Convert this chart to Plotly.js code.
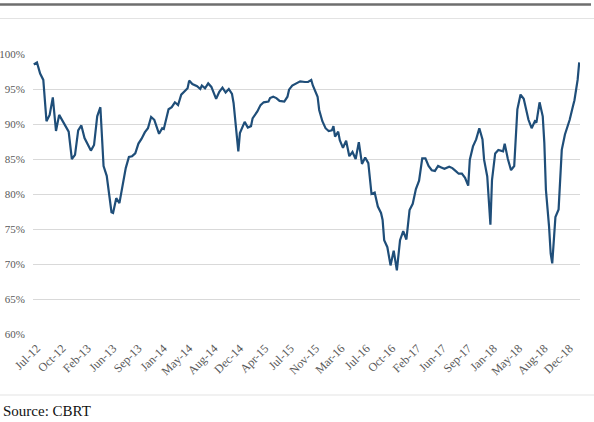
<!DOCTYPE html>
<html>
<head>
<meta charset="utf-8">
<script src="https://cdn.plot.ly/plotly-3.0.1.min.js"></script>
<style>
  html, body { margin: 0; padding: 0; background: #ffffff; }
  #chart { width: 594px; height: 422px; }
</style>
</head>
<body>
<div id="chart"></div>
<script>
// Weekly observations, counted in weeks from the first one (Jul-12)
const weeks = [
  0, 2, 4, 5, 6, 8, 10, 12, 14, 16, 18, 21, 22, 24, 26, 28, 30, 32, 35, 36,
  38, 40, 42, 44, 46, 49, 50, 52, 54, 56, 58, 60, 62, 64, 66, 68, 70, 72, 74, 76,
  79, 81, 82, 85, 87, 89, 91, 93, 95, 97, 98, 100, 103, 105, 106, 108, 110, 112, 115, 117,
  119, 121, 123, 125, 126, 127, 129, 130, 133, 135, 137, 138, 141, 143, 145, 148, 149, 151, 153, 155,
  158, 160, 161, 163, 166, 168, 171, 173, 175, 176, 179, 180, 182, 184, 186, 188, 189, 190, 192, 193,
  195, 197, 199, 201, 203, 205, 207, 209, 211, 212, 213, 215, 217, 219, 220, 221, 223, 225, 227, 229,
  231, 233, 235, 237, 239, 241, 243, 245, 247, 249, 251, 253, 255, 257, 259, 262, 264, 266, 268, 270,
  272, 274, 275, 277, 279, 281, 283, 284, 286, 288, 289, 291, 293, 296, 297, 299, 301, 303, 305, 307,
  309, 312, 314, 316, 317, 319, 321, 322, 323, 325, 326, 327, 329, 331, 333, 335, 338, 340, 341, 343,
  344
];

// Ratio, in percent
const ratio = [
  98.5, 98.8, 97.2, 96.7, 96.3, 90.4, 91.3, 93.8, 89.0, 91.3, 90.5, 89.5, 88.9, 85.0, 85.6, 89.1, 89.8, 88.0, 86.5, 86.2,
  87.0, 91.1, 92.4, 84.0, 82.6, 77.4, 77.3, 79.4, 78.7, 81.5, 83.7, 85.3, 85.4, 85.8, 87.2, 87.9, 88.8, 89.4, 91.0, 90.6,
  88.6, 89.4, 89.3, 92.1, 92.4, 93.1, 92.7, 94.2, 94.7, 95.1, 96.2, 95.7, 95.4, 95.0, 95.5, 95.1, 95.8, 95.3, 93.6, 94.6,
  95.2, 94.5, 95.0, 94.3, 93.0, 90.6, 86.1, 88.7, 90.3, 89.5, 89.7, 90.8, 91.8, 92.7, 93.1, 93.2, 93.7, 93.9, 93.7, 93.3,
  93.2, 93.9, 94.9, 95.5, 95.9, 96.1, 96.0, 96.0, 96.3, 95.5, 93.9, 92.0, 90.4, 89.4, 89.0, 89.1, 89.7, 88.2, 88.9, 87.7,
  86.6, 87.6, 85.4, 86.0, 85.0, 87.4, 84.3, 85.2, 84.4, 82.5, 80.0, 80.2, 78.2, 77.3, 76.3, 73.4, 72.4, 69.8, 71.9, 69.1,
  73.4, 74.7, 73.5, 77.7, 78.6, 80.7, 81.9, 85.1, 85.1, 84.0, 83.4, 83.3, 84.0, 83.8, 83.6, 83.9, 83.7, 83.3, 82.9, 82.9,
  82.3, 81.2, 84.9, 86.8, 87.8, 89.4, 87.8, 84.9, 82.5, 75.6, 82.0, 85.8, 86.3, 86.1, 87.2, 85.0, 83.4, 84.0, 92.1, 94.2,
  93.6, 90.6, 89.4, 90.4, 90.2, 93.1, 91.1, 87.3, 80.6, 75.3, 71.5, 70.1, 76.7, 77.8, 86.3, 88.5, 90.6, 92.5, 93.4, 96.3,
  98.8
];

// Axis labels: one every 16 weeks
const tickWeeks = [0, 16, 32, 48, 64, 80, 96, 112, 128, 144, 160, 176, 192, 208, 224, 240, 256, 272, 288, 304, 320, 336];
const tickLabels = ['Jul-12', 'Oct-12', 'Feb-13', 'Jun-13', 'Sep-13', 'Jan-14', 'May-14', 'Aug-14', 'Dec-14', 'Apr-15', 'Jul-15',
  'Nov-15', 'Mar-16', 'Jul-16', 'Oct-16', 'Feb-17', 'Jun-17', 'Sep-17', 'Jan-18', 'May-18', 'Aug-18', 'Dec-18'];

const yTicks = [60, 65, 70, 75, 80, 85, 90, 95, 100];
const gridTicks = [60, 65, 70, 75, 80, 85, 90, 95];

const serif = '"Liberation Serif", "Times New Roman", serif';
const labelGrey = '#595959';

const trace = {
  x: weeks,
  y: ratio,
  type: 'scatter',
  mode: 'lines',
  line: { color: '#1f4e79', width: 2.2 },
  hoverinfo: 'skip'
};

// Invisible trace that carries the gridlines on the second y axis
const gridTrace = {
  x: [weeks[0]],
  y: [ratio[0]],
  yaxis: 'y2',
  type: 'scatter',
  mode: 'markers',
  marker: { opacity: 0 },
  hoverinfo: 'skip',
  showlegend: false
};

const ML = 33, MR = 14, MT = 54, MB = 88;
const W = 594, H = 422;
const px = v => (v - ML) / (W - ML - MR);
const py = v => (H - MB - v) / (H - MT - MB);

const layout = {
  width: W,
  height: H,
  margin: { l: ML, r: MR, t: MT, b: MB, pad: 0 },
  paper_bgcolor: '#ffffff',
  plot_bgcolor: '#ffffff',
  showlegend: false,
  xaxis: {
    range: [-0.5, 344.5],
    tickmode: 'array',
    tickvals: tickWeeks,
    ticktext: tickLabels,
    tickangle: -45,
    showgrid: false,
    zeroline: false,
    showline: false,
    ticks: '',
    ticklabelstandoff: 4,
    ticklabelshift: 3,
    tickfont: { family: serif, size: 12, color: labelGrey },
    fixedrange: true
  },
  yaxis: {
    range: [60, 100],
    tickmode: 'array',
    tickvals: yTicks,
    ticktext: yTicks.map(v => v + '%'),
    showgrid: false,
    zeroline: false,
    showline: false,
    ticks: '',
    ticklabelstandoff: 7,
    tickfont: { family: serif, size: 11, color: labelGrey },
    fixedrange: true
  },
  yaxis2: {
    overlaying: 'y',
    range: [60, 100],
    tickmode: 'array',
    tickvals: gridTicks,
    showticklabels: false,
    showgrid: true,
    gridcolor: '#d9d9d9',
    gridwidth: 1,
    zeroline: false,
    showline: false,
    ticks: '',
    fixedrange: true
  },
  shapes: [
    { type: 'line', xref: 'paper', yref: 'paper', x0: px(0), x1: px(591), y0: py(4.5), y1: py(4.5),
      line: { color: '#6e6e6e', width: 2.5 } },
    { type: 'line', xref: 'paper', yref: 'paper', x0: px(0), x1: px(594), y0: py(18.5), y1: py(18.5),
      line: { color: '#e3e3e3', width: 1 } },
    { type: 'line', xref: 'paper', yref: 'paper', x0: px(0), x1: px(594), y0: py(395), y1: py(395),
      line: { color: '#e3e3e3', width: 1 } }
  ],
  annotations: [
    { text: 'Source: CBRT', xref: 'paper', yref: 'paper', x: px(1), y: py(410.5),
      xanchor: 'left', yanchor: 'middle', showarrow: false,
      font: { family: serif, size: 15, color: '#111111' } }
  ]
};

Plotly.newPlot('chart', [gridTrace, trace], layout, { staticPlot: true, displayModeBar: false });
</script>
</body>
</html>
